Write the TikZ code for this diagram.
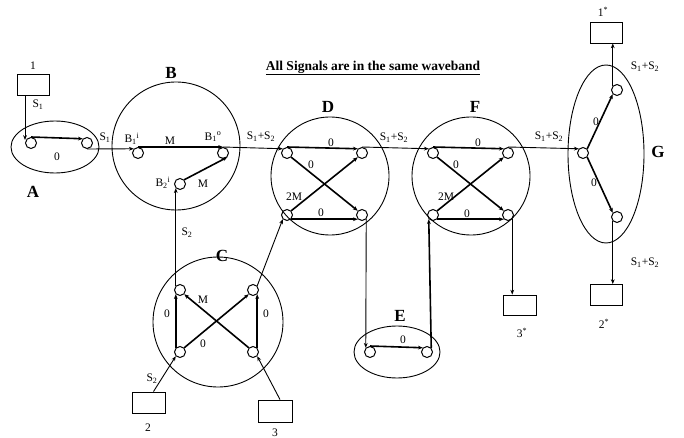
\documentclass[tikz,border=0pt]{standalone}
\usepackage{fontspec}
\setmainfont{Liberation Serif}
\usetikzlibrary{arrows.meta,shapes.geometric}
\newcommand\sigsum{S\textsubscript{1}+S\textsubscript{2}}
\begin{document}
\begin{tikzpicture}[x=1pt,y=-1pt,
  wire/.style={line width=0.9pt},
  link/.style={line width=1.6pt},
  arr/.style={-{Stealth[length=4.8pt,width=3.8pt]}},
  port/.style={circle,draw,line width=1pt,minimum size=11pt,inner sep=0pt},
  unit/.style={circle,draw,line width=0.9pt,inner sep=0pt},
  oval/.style={ellipse,draw,line width=0.9pt,inner sep=0pt},
  box/.style={draw,line width=0.9pt,minimum width=32pt,minimum height=21pt,inner sep=0pt},
  tag/.style={font=\fontsize{17}{17}\selectfont\bfseries,inner sep=0pt},
  lab/.style={font=\fontsize{11.5}{12}\selectfont,inner sep=0pt},
]
\path[use as bounding box,fill=white] (0,0) rectangle (684,438);

% heading
\node[font=\fontsize{13.5}{14}\selectfont\bfseries] (title) at (373,68)
  {\underline{All Signals are in the same waveband}};

% units
\node[oval,minimum width=88pt,minimum height=52pt] (A) at (55,147) {};
\node[unit,minimum size=128pt] (B) at (176,146) {};
\node[unit,minimum size=130pt] (C) at (218,322) {};
\node[unit,minimum size=118pt] (D) at (330,176) {};
\node[oval,minimum width=86pt,minimum height=52pt] (E) at (397,352) {};
\node[unit,minimum size=118pt] (F) at (471,176) {};
\node[oval,minimum width=76pt,minimum height=178pt] (G) at (606,154) {};

\node[tag] (tA) at (33,192) {A};
\node[tag] (tB) at (171,73) {B};
\node[tag] (tC) at (222,256) {C};
\node[tag] (tD) at (328,107) {D};
\node[tag] (tE) at (400,316) {E};
\node[tag] (tF) at (475,107) {F};
\node[tag] (tG) at (658,152) {G};

% terminals
\node[box] (box1) at (33,84.5) {};
\node[box,minimum width=33pt] (box2) at (148.5,402.5) {};
\node[box,minimum width=34pt,minimum height=22pt] (box3) at (275,411) {};
\node[box] (b1s) at (606,32.5) {};
\node[box] (b2s) at (606,295) {};
\node[box,minimum width=33pt,minimum height=20pt] (b3s) at (519.5,305) {};

\node[lab] (l1) at (33,66) {1};
\node[lab] (l2) at (148,428) {2};
\node[lab] (l3) at (275,433) {3};
\node[lab] (l1s) at (603,12) {1\textsuperscript{*}};
\node[lab] (l2s) at (604,324) {2\textsuperscript{*}};
\node[lab] (l3s) at (522,333) {3\textsuperscript{*}};

% ports
\node[port] (a1) at (31,143) {};
\node[port] (a2) at (87,143) {};
\node[port] (b1i) at (138,153) {};
\node[port] (b1o) at (223,153) {};
\node[port] (b2i) at (180,184) {};
\node[port] (ctl) at (180,290) {};
\node[port] (ctr) at (253,290) {};
\node[port] (cbl) at (180,352) {};
\node[port] (cbr) at (253,352) {};
\node[port] (dtl) at (287,153) {};
\node[port] (dtr) at (362,153) {};
\node[port] (dbl) at (287,215) {};
\node[port] (dbr) at (362,215) {};
\node[port] (e1) at (370,352) {};
\node[port] (e2) at (427,352) {};
\node[port] (ftl) at (433,153) {};
\node[port] (ftr) at (508,153) {};
\node[port] (fbl) at (433,215) {};
\node[port] (fbr) at (508,215) {};
\node[port] (gc) at (583,153) {};
\node[port] (gt) at (617,90) {};
\node[port] (gb) at (617,217) {};

% A
\draw[wire,arr] (a1.west |- box1.south) -- ([yshift=3pt]a1.west);
\node[lab] at (38,105) {S\textsubscript{1}};
\draw[link,arr] (a1.north) -- (a2.north west);
\node[lab] at (57,157) {0};
\draw[wire,arr] (a2.south) -- (b1i.north west);
\node[lab] at (105,138) {S\textsubscript{1}};

% B
\draw[link,arr] (b1i.north) -- (b1o.north);
\node[lab] at (132,139) {B\textsubscript{1}\textsuperscript{i}};
\node[lab] at (170,141) {M};
\node[lab] at (213,137) {B\textsubscript{1}\textsuperscript{o}};
\draw[link,arr] (b2i.north east) -- (b1o.south east);
\node[lab] at (163,183) {B\textsubscript{2}\textsuperscript{i}};
\node[lab] at (203,184) {M};
\draw[wire,arr] (b1o.north) -- (dtl.north west);
\node[lab] at (261,137) {\sigsum};

% C
\draw[wire,arr] (ctl.north west) -- (b2i.south west);
\node[lab] at (187,233) {S\textsubscript{2}};
\draw[link,arr] (cbl.north west) -- (ctl.south west);
\node[lab] at (167,314) {0};
\draw[link,arr] (cbr.north east) -- (ctr.south east);
\node[lab] at (266,314) {0};
\draw[link,arr] (cbl.north east) -- (ctr.south west);
\node[lab] at (203,344) {0};
\draw[link,arr] (cbr.north west) -- (ctl.south east);
\node[lab] at (203,300) {M};
\draw[wire,arr] ([xshift=5pt]box2.north) -- (cbl.south west);
\node[lab] at (152,379) {S\textsubscript{2}};
\draw[wire,arr] ([xshift=5pt]box3.north) -- (cbr.south east);
\draw[wire,arr] (ctr.north east) -- (dbl.south west);

% D
\draw[link,arr] (dtl.north) -- (dtr.north west);
\node[lab] at (331,143) {0};
\draw[link,arr] (dtl.south east) -- (dbr.north west);
\node[lab] at (311,165) {0};
\draw[link,arr] (dbl.north east) -- (dtr.south west);
\node[lab] at (294,197) {2M};
\draw[link,arr] (dbl.south east) -- (dbr.south west);
\node[lab] at (321,213) {0};
\draw[wire,arr] (dtr.north) -- (ftl.north west);
\node[lab] at (394,138) {\sigsum};
\draw[wire,arr] (dbr.south east) -- (e1.north west);

% E
\draw[link,arr] (e1.north) -- (e2.north west);
\node[lab] at (403,340) {0};
\draw[link,arr] (e2.north east) -- (fbl.south west);

% F
\draw[link,arr] (ftl.north) -- (ftr.north west);
\node[lab] at (478,143) {0};
\draw[link,arr] (ftl.south east) -- (fbr.north west);
\node[lab] at (456,165) {0};
\draw[link,arr] (fbl.north east) -- (ftr.south west);
\node[lab] at (446,197) {2M};
\draw[link,arr] (fbl.south east) -- (fbr.south west);
\node[lab] at (467,214) {0};
\draw[wire,arr] (ftr.north) -- (gc.north west);
\node[lab] at (549,137) {\sigsum};
\draw[wire,arr] (fbr.south east) -- (fbr.south east |- b3s.north);

% G
\draw[link,arr] (gc.north east) -- (gt.south west);
\node[lab] at (596,122) {0};
\draw[link,arr] (gc.south east) -- (gb.north west);
\node[lab] at (594,183) {0};
\draw[wire,arr] (gt.north west) -- (gt.north west |- b1s.south);
\node[lab] at (645,67) {\sigsum};
\draw[wire,arr] (gb.south west) -- (gb.south west |- b2s.north);
\node[lab] at (645,263) {\sigsum};
\end{tikzpicture}
\end{document}
